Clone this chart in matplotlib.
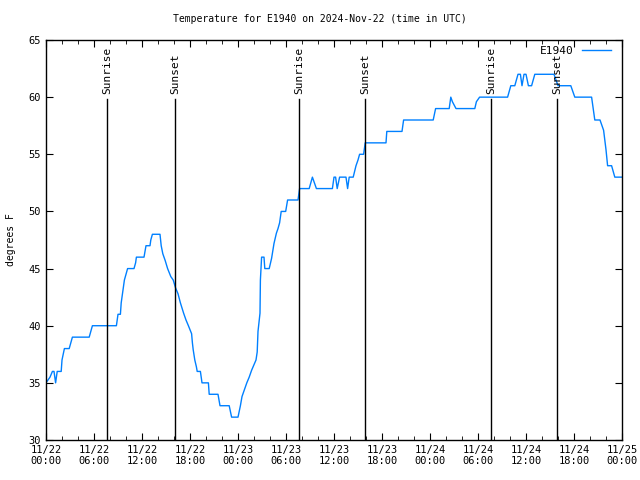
import numpy as np
import matplotlib
matplotlib.use("Agg")
import matplotlib.pyplot as plt
from matplotlib.ticker import MultipleLocator

# hours since 2024-11-22 00:00 UTC and temperature (F)
hours = [
    0.0, 0.5, 0.8, 1.0, 1.2, 1.4, 1.9, 2.0, 2.3, 2.9, 3.1, 3.3, 5.4, 5.6, 5.8,
    8.8, 9.0, 9.3, 9.4, 9.6, 9.8, 10.2, 11.0, 11.2, 11.3, 12.25, 12.5, 13.0,
    13.1, 13.3, 14.25, 14.4, 14.6, 14.9, 15.2, 15.6, 15.9, 16.2, 16.5, 16.8,
    17.2, 17.5, 17.8, 18.2, 18.3, 18.4, 18.6, 18.8, 18.9, 19.3, 19.5, 20.3,
    20.4, 21.5, 21.75, 22.9, 23.2, 24.0, 24.3, 24.5, 24.8, 25.1, 25.4, 25.7,
    26.0, 26.25, 26.4, 26.5, 26.75, 26.8, 26.95, 27.25, 27.35, 27.9, 28.2,
    28.4, 28.5, 28.8, 29.0, 29.2, 29.4, 29.96, 30.2, 31.5, 31.6, 31.7, 32.9,
    33.3, 33.8, 35.8, 36.0, 36.2, 36.4, 36.7, 37.5, 37.7, 37.9, 38.4, 38.75,
    39.0, 39.2, 39.7, 39.9, 42.5, 42.6, 44.5, 44.7, 48.4, 48.7, 50.4, 50.6,
    50.8, 51.25, 53.6, 53.8, 54.2, 57.7, 58.1, 58.6, 59.0, 59.3, 59.5, 59.75,
    60.0, 60.3, 60.7, 61.1, 63.5, 64.0, 65.6, 66.1, 68.2, 68.6, 69.25, 69.5,
    69.7, 70.0, 70.2, 70.7, 71.1, 72.0,
]
temps = [
    35, 35.5, 36, 36, 35, 36, 36, 37, 38, 38, 38.5, 39, 39, 39.5, 40,
    40, 41, 41, 42, 43, 44, 45, 45, 45.5, 46, 46, 47, 47,
    47.5, 48, 48, 47, 46.3, 45.7, 45, 44.3, 44, 43.3, 42.8, 42,
    41.1, 40.5, 40, 39.3, 38.5, 37.9, 37, 36.4, 36, 36, 35, 35,
    34, 34, 33, 33, 32, 32, 33, 33.8, 34.4, 35, 35.5, 36.1,
    36.6, 37, 37.7, 39.5, 41.1, 44, 46, 46, 45, 45, 45.9,
    46.8, 47.2, 48.1, 48.5, 49, 50, 50, 51, 51, 51.5, 52, 52,
    53, 52, 52, 53, 53, 52, 53, 53, 52, 53, 53, 54,
    54.5, 55, 55, 56, 56, 57, 57, 58, 58, 59, 59, 60,
    59.6, 59, 59, 59.6, 60, 60, 61, 61, 62, 62, 61, 62,
    62, 61, 61, 62, 62, 61, 61, 60, 60, 58, 58, 57.5,
    57.1, 55.4, 54, 54, 53, 53,
]

sun_hours = [7.6, 16.1, 31.6, 39.9, 55.6, 63.9]
sun_labels = ["Sunrise", "Sunset", "Sunrise", "Sunset", "Sunrise", "Sunset"]

tick_labels = [
    "11/22\n00:00", "11/22\n06:00", "11/22\n12:00", "11/22\n18:00",
    "11/23\n00:00", "11/23\n06:00", "11/23\n12:00", "11/23\n18:00",
    "11/24\n00:00", "11/24\n06:00", "11/24\n12:00", "11/24\n18:00",
    "11/25\n00:00",
]

plt.rcParams["font.family"] = ["DejaVu Sans Mono"]
plt.rcParams["font.size"] = 7.5

fig = plt.figure(figsize=(6.4, 4.8), dpi=100)
ax = fig.add_axes([46 / 640, 40 / 480, 576 / 640, 400 / 480])

ax.plot(hours, temps, color="#0080ff", linewidth=1.0, label="E1940")

# sunrise / sunset markers
for h, lab in zip(sun_hours, sun_labels):
    ax.plot([h, h], [30, 59.85], color="black", linewidth=1.0)
    ax.text(h, 60.3, lab, rotation=90, ha="center", va="bottom", fontsize=8)

ax.set_xlim(0, 72)
ax.set_ylim(30, 65)
ax.set_xticks(np.arange(0, 73, 6))
ax.set_xticklabels(tick_labels)
ax.xaxis.set_minor_locator(MultipleLocator(2))
ax.set_yticks(np.arange(30, 66, 5))

ax.tick_params(which="both", direction="in", top=True, right=True)
ax.tick_params(which="major", length=5)
ax.tick_params(which="minor", length=3)
for s in ax.spines.values():
    s.set_linewidth(1.0)

ax.set_ylabel("degrees F", labelpad=9, fontsize=7)
fig.suptitle("Temperature for E1940 on 2024-Nov-22 (time in UTC)",
             y=1 - 19 / 480, va="center", fontsize=7)

ax.legend(loc="upper right", bbox_to_anchor=(0.99, 1.0), frameon=False,
          markerfirst=False, handlelength=2.6, handletextpad=0.7,
          borderaxespad=0.1, fontsize=8)

fig.savefig("out.png", dpi=100)
